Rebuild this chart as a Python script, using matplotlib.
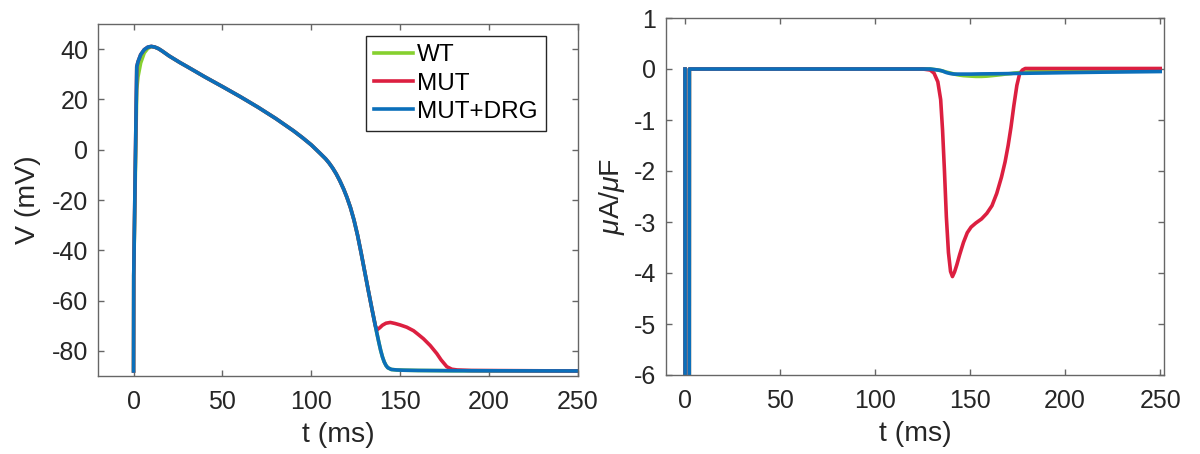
import matplotlib
matplotlib.use("Agg")
import matplotlib.pyplot as plt

plt.rcParams['font.family'] = ['Liberation Sans', 'DejaVu Sans']
plt.rcParams['mathtext.fontset'] = 'custom'
plt.rcParams['mathtext.it'] = 'Liberation Sans:italic'
plt.rcParams['mathtext.rm'] = 'Liberation Sans'
plt.rcParams['axes.unicode_minus'] = False

# ---- data: action potential (left) ----
ap_t = [0, 0.1, 1.0, 1.8, 2.5, 4, 6, 8, 10, 12, 14, 16, 18, 20, 23, 26, 30, 40, 50, 60,
        70, 80, 90, 95, 100, 105, 108, 110, 112, 114, 116, 118.2, 120, 122, 124, 126,
        128, 130, 132, 134, 136, 137, 138, 139, 140, 141, 142, 143, 145, 148, 152, 160,
        180, 250]
mut_drg_v = [-88, -50, -5, 33, 35, 37.8, 39.8, 40.8, 41.1, 40.8, 40.2, 39.3, 38.3, 37.3,
             36.0, 34.7, 33.1, 29.0, 25.1, 21.1, 16.9, 12.4, 7.5, 4.8, 1.9, -1.5, -3.6,
             -5.3, -7.3, -9.6, -12.3, -15.7, -18.9, -23.0, -28.0, -34.0, -41.0, -48.4,
             -55.8, -63.0, -70.0, -73.4, -76.7, -79.8, -82.4, -84.4, -85.8, -86.7, -87.4,
             -87.6, -87.7, -87.8, -87.9, -88]
wt_v = [-88, -50, -10, 24, 29, 34.5, 38.5, 40.3, 41.0, 40.8, 40.2, 39.3, 38.3, 37.3,
        36.0, 34.7, 33.1, 29.0, 25.1, 21.1, 16.9, 12.4, 7.5, 4.8, 1.9, -1.5, -3.6,
        -5.3, -7.3, -9.6, -12.3, -15.7, -18.9, -23.0, -28.0, -34.0, -41.0, -48.4,
        -55.8, -63.0, -70.0, -73.4, -76.7, -79.8, -82.4, -84.4, -85.8, -86.7, -87.4,
        -87.6, -87.7, -87.8, -87.9, -88]
mut_t = [0, 0.1, 1.0, 1.8, 2.5, 4, 6, 8, 10, 12, 14, 16, 18, 20, 23, 26, 30, 40, 50, 60,
         70, 80, 90, 95, 100, 105, 108, 110, 112, 114, 116, 118.2, 120, 122, 124, 126,
         128, 130, 132, 134, 136, 137, 138.5, 140, 142, 144.4, 147, 150, 153.7, 157.5,
         160, 163.1, 166.9, 170.6, 173, 176.2, 179, 182, 190, 250]
mut_v = [-88, -50, -5, 33, 35, 37.8, 39.8, 40.8, 41.1, 40.8, 40.2, 39.3, 38.3, 37.3,
         36.0, 34.7, 33.1, 29.0, 25.1, 21.1, 16.9, 12.4, 7.5, 4.8, 1.9, -1.5, -3.6,
         -5.3, -7.3, -9.6, -12.3, -15.7, -18.9, -23.0, -28.0, -34.0, -41.0, -48.4,
         -55.8, -63.0, -70.0, -71.6, -70.8, -69.8, -69.0, -68.7, -69.1, -69.7, -70.6,
         -72.0, -73.4, -75.2, -77.9, -81.1, -83.6, -86.3, -87.3, -87.6, -87.8, -88]

# ---- data: current (right) ----
cur_t = [0, 0.2, 2.0, 2.3, 5, 125, 129, 131, 133, 134.5, 135.5, 136.5, 137.5, 138.6,
         139.7, 140.7, 141.8, 143, 144.5, 146.5, 148.5, 150.5, 153, 156, 158.8, 161.5,
         164, 166.5, 168.4, 170, 171.5, 173, 174.6, 176, 177.5, 179, 182, 190, 200,
         220, 250]
mut_i = [0, -40, -40, 0, 0, 0, -0.02, -0.08, -0.25, -0.6, -1.2, -2.0, -2.9, -3.6,
         -3.97, -4.07, -3.98, -3.84, -3.64, -3.4, -3.21, -3.1, -3.02, -2.94, -2.83,
         -2.68, -2.44, -2.12, -1.82, -1.5, -1.14, -0.72, -0.32, -0.1, -0.02, 0.01, 0.01,
         0.01, 0.01, 0.01, 0.01]
wt_i = [0, -40, -40, 0, 0, 0, -0.0, -0.01, -0.02, -0.03, -0.04, -0.05, -0.06, -0.07,
        -0.08, -0.09, -0.1, -0.11, -0.12, -0.13, -0.135, -0.14, -0.145, -0.145, -0.14,
        -0.13, -0.12, -0.11, -0.1, -0.095, -0.09, -0.08, -0.075, -0.07, -0.065, -0.06,
        -0.055, -0.05, -0.05, -0.045, -0.04]
drg_i = [0, -40, -40, 0, 0, 0, -0.0, -0.01, -0.02, -0.03, -0.04, -0.055, -0.07, -0.08,
         -0.09, -0.095, -0.1, -0.1, -0.1, -0.1, -0.1, -0.1, -0.098, -0.096, -0.095,
         -0.094, -0.093, -0.092, -0.091, -0.09, -0.089, -0.088, -0.087, -0.086, -0.085,
         -0.084, -0.082, -0.078, -0.072, -0.062, -0.05]

labels = ['WT', 'MUT', 'MUT+DRG']
colors = ['#86d02f', '#dc1f40', '#0b6fba']
xticks = [0, 50, 100, 150, 200, 250]

fig = plt.figure(figsize=(12, 4.54), dpi=100)
ax1 = fig.add_axes([98 / 1200, 78 / 454, 480 / 1200, 352 / 454])
ax2 = fig.add_axes([666 / 1200, 79 / 454, 498 / 1200, 357 / 454])

lw = 2.6
ax1.plot(ap_t, wt_v, color=colors[0], lw=lw, label=labels[0])
ax1.plot(mut_t, mut_v, color=colors[1], lw=lw, label=labels[1])
ax1.plot(ap_t, mut_drg_v, color=colors[2], lw=lw, label=labels[2])

ax2.plot(cur_t, wt_i, color=colors[0], lw=lw)
ax2.plot(cur_t, mut_i, color=colors[1], lw=lw)
ax2.plot(cur_t, drg_i, color=colors[2], lw=lw)

ax1.set_xlim(-20, 250)
ax1.set_ylim(-90, 50)
ax1.set_yticks([-80, -60, -40, -20, 0, 20, 40])
ax2.set_xlim(-10, 252)
ax2.set_ylim(-6, 1)
ax2.set_yticks([-6, -5, -4, -3, -2, -1, 0, 1])

fs = 18
lfs = 20.5
for ax in (ax1, ax2):
    ax.set_xticks(xticks)
    for s in ax.spines.values():
        s.set_color('#666666')
        s.set_linewidth(1.0)
    ax.tick_params(direction='in', length=4, width=1, color='#666666',
                   labelsize=fs, labelcolor='#262626', top=True, right=True)
    ax.tick_params(axis='x', pad=10)
    ax.tick_params(axis='y', pad=7)
    ax.set_xlabel('t (ms)', fontsize=lfs, color='#262626', labelpad=6)

ax1.set_ylabel('V (mV)', fontsize=lfs, color='#262626', labelpad=8)
ax2.set_ylabel(r'$\mu$A/$\mu$F', fontsize=lfs, color='#262626', labelpad=5)

leg = ax1.legend(loc='upper right', bbox_to_anchor=(0.933, 0.966), borderaxespad=0,
                 fontsize=17.5, frameon=True, fancybox=False, framealpha=1,
                 handlelength=1.6, handletextpad=0.15, labelspacing=0.25,
                 borderpad=0.35)
leg.get_frame().set_edgecolor('#262626')
leg.get_frame().set_linewidth(1.0)
for line in leg.get_lines():
    line.set_linewidth(2.6)

fig.savefig('out.png', dpi=100)
